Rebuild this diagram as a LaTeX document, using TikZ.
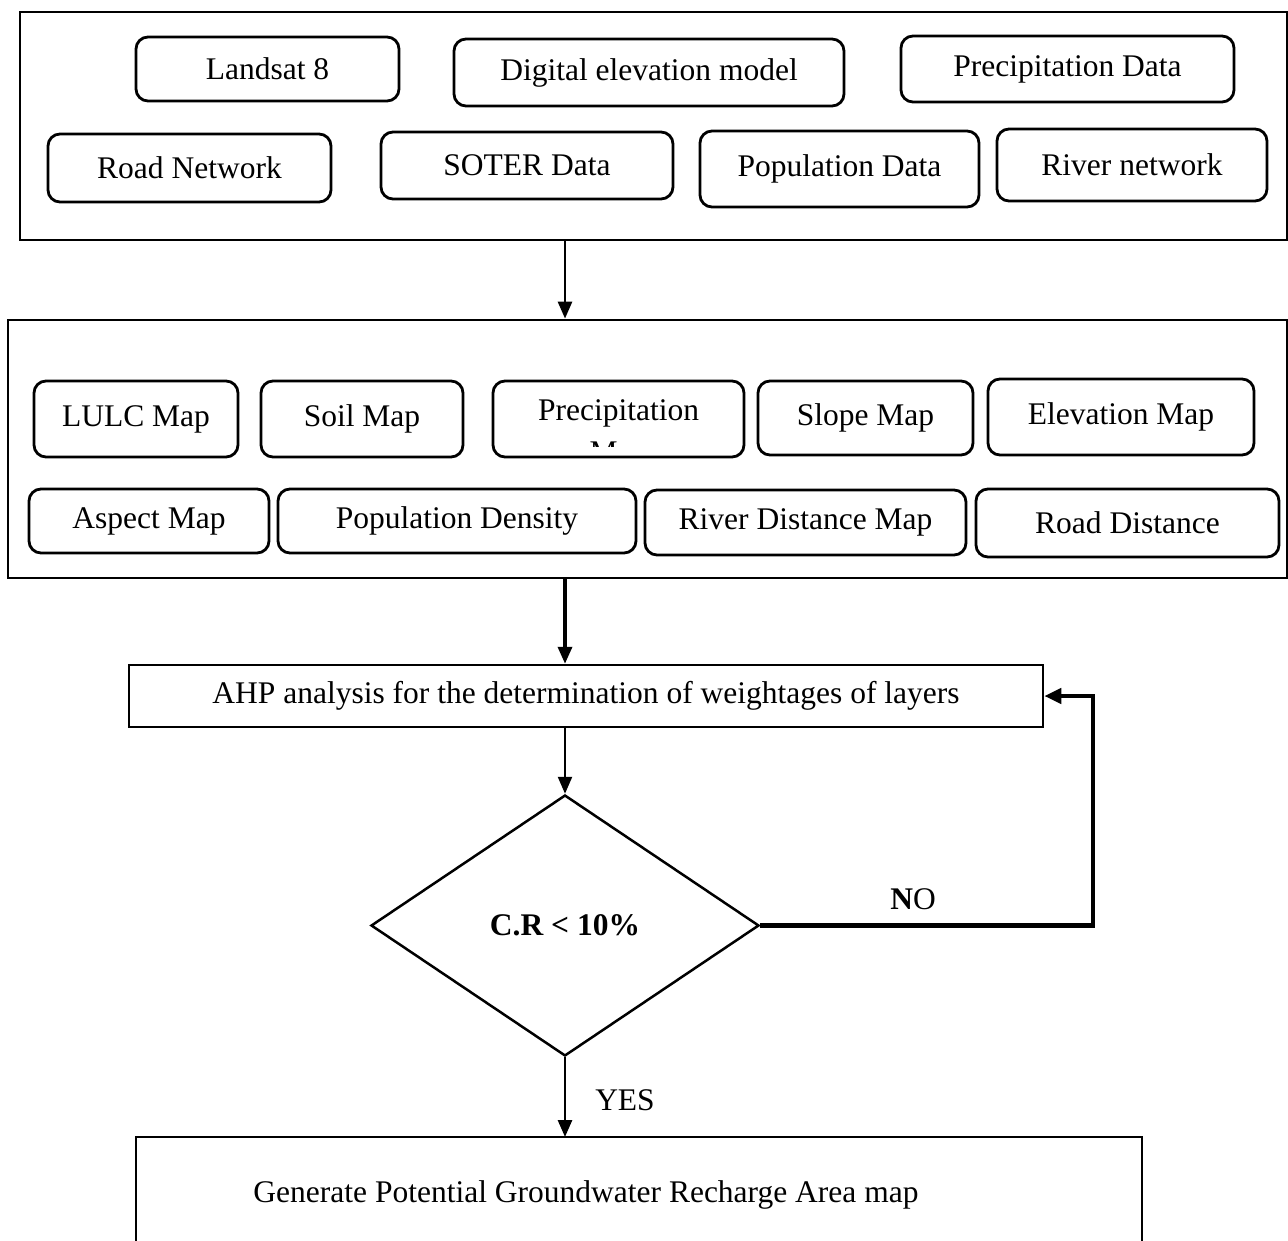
\documentclass[tikz,border=0pt]{standalone}
\usepackage{fontspec}
\setmainfont{Liberation Serif}
\usetikzlibrary{shapes.geometric,arrows.meta}
\tikzset{
  rbox/.style={draw=black, line width=2.8pt, rounded corners=12pt, inner sep=0pt},
  frame/.style={draw=black, line width=2.8pt, inner sep=0pt},
  flow/.style={line width=2.8pt, -{Triangle[length=17pt,width=14pt]}},
  loop/.style={line width=4.5pt, -{Triangle[length=17pt,width=15pt]}},
}
\begin{document}
\begin{tikzpicture}[x=1pt,y=-1pt,font=\fontsize{31.5}{37}\selectfont]
\useasboundingbox (0,0) rectangle (1288,1241);
% frame 1
\node[frame, minimum width=1267pt, minimum height=228pt] (src) at (653.5,126) {};
\node[rbox, minimum width=263pt, minimum height=64pt] (land) at (267.5,69) {Landsat 8};
\node[rbox, minimum width=390pt, minimum height=67pt] (dem) at (649,72.5) {Digital elevation model};
\node[rbox, minimum width=333pt, minimum height=66pt] (prec) at (1067.5,69) {Precipitation Data};
\node[rbox, minimum width=283pt, minimum height=68pt] (road) at (189.5,168) {Road Network};
\node[rbox, minimum width=292pt, minimum height=67pt] (soter) at (527,165.5) {SOTER Data};
\node[rbox, minimum width=279pt, minimum height=76pt] (pop) at (839.5,169) {Population Data};
\node[rbox, minimum width=270pt, minimum height=72pt] (river) at (1132,165) {River network};
% frame 2
\node[frame, minimum width=1279pt, minimum height=258pt] (lay) at (647.5,449) {};
\node[rbox, minimum width=204pt, minimum height=76pt] (lulc) at (136,419) {LULC Map};
\node[rbox, minimum width=202pt, minimum height=76pt] (soil) at (362,419) {Soil Map};
\node[rbox, minimum width=251pt, minimum height=76pt] (pmap) at (618.5,419) {};
\node (ptxt) at (618.5,413) {Precipitation};
\begin{scope}
\clip (493,381) rectangle (744,446);
\node (pmtxt) at (618.5,456) {Map};
\end{scope}
\node[rbox, minimum width=215pt, minimum height=74pt] (slope) at (865.5,418) {Slope Map};
\node[rbox, minimum width=266pt, minimum height=76pt] (elev) at (1121,417) {Elevation Map};
\node[rbox, minimum width=240pt, minimum height=64pt] (asp) at (149,521) {Aspect Map};
\node[rbox, minimum width=358pt, minimum height=64pt] (popd) at (457,521) {Population Density};
\node[rbox, minimum width=321pt, minimum height=65pt] (rdist) at (805.5,522.5) {River Distance Map};
\node[rbox, minimum width=303pt, minimum height=68pt] (rdd) at (1127.5,523) {Road Distance};
% AHP
\node[draw=black, line width=2.5pt, minimum width=914pt, minimum height=62pt, inner sep=0pt] (ahp) at (586,696) {AHP analysis for the determination of weightages of layers};
% decision
\node[draw=black, line width=2.5pt, shape=diamond, minimum width=388pt, minimum height=261pt, inner sep=0pt] (cr) at (565,925.5) {\textbf{C.R < 10\%}};
% output frame (bottom side cut off)
\coordinate (gtl) at (136,1137);
\coordinate (gtr) at (1142,1137);
\draw[line width=2.8pt] (136,1245) -- (gtl) -- (gtr) -- (1142,1245);
\node (gen) at (586,1195) {Generate Potential Groundwater Recharge Area map};
\coordinate (gtop) at (565,1137);
% connectors
\draw[flow] (src.south -| cr.north) -- (lay.north -| cr.north);
\draw[flow, line width=3.5pt] (lay.south -| cr.north) -- (ahp.north -| cr.north);
\draw[flow, line width=2.4pt] (ahp.south -| cr.north) -- (cr.north);
\draw[flow] (cr.south) -- (gtop);
\node (yes) at (625,1100) {YES};
\coordinate (nocorner) at (1093,925.5);
\draw[loop] (cr.east) -- (nocorner) |- (ahp.east);
\node (no) at (913,899) {\textbf{N}O};
\end{tikzpicture}
\end{document}
